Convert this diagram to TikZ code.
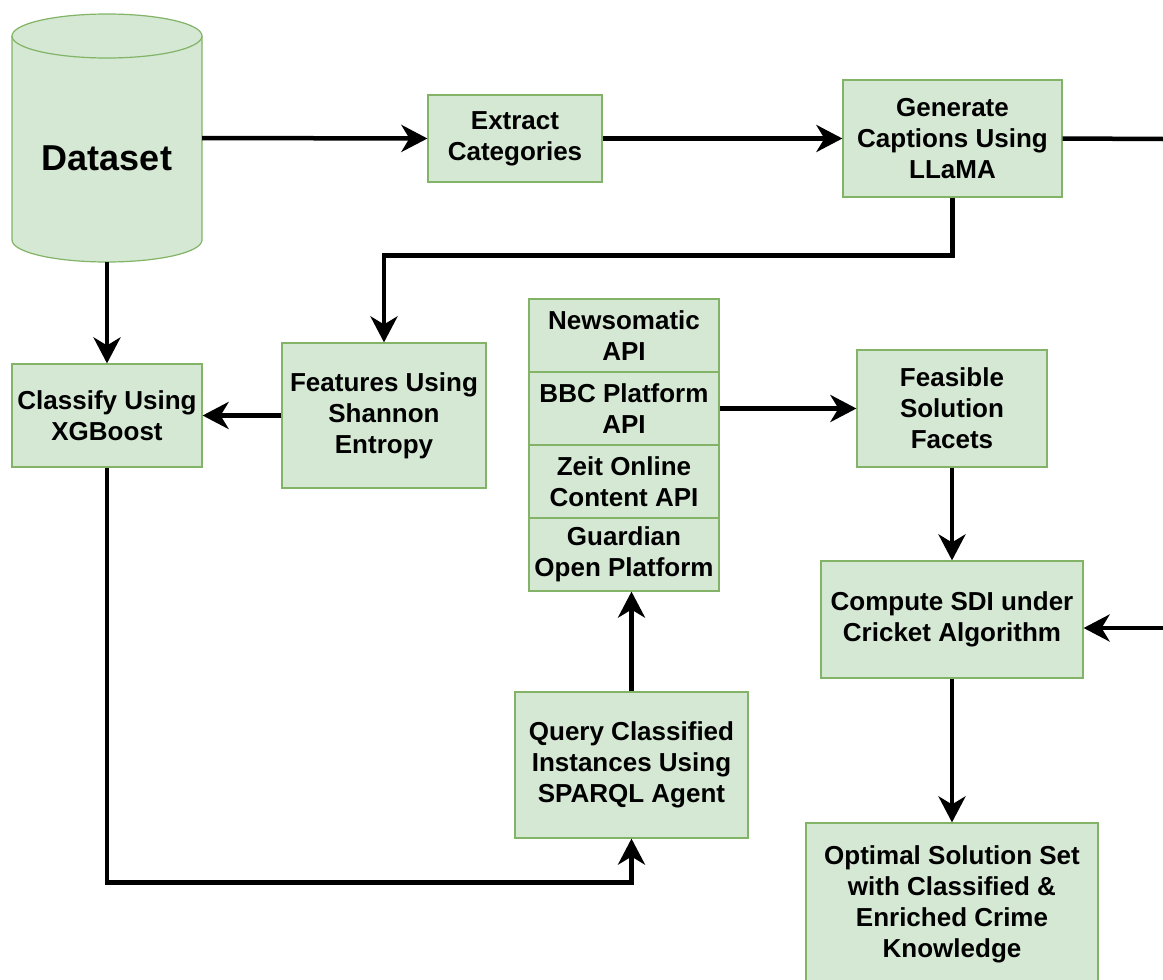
\documentclass[tikz,border=0pt]{standalone}
\usepackage{fontspec}
\setmainfont{Liberation Sans}
\usetikzlibrary{arrows.meta}
\definecolor{boxfill}{HTML}{D5E8D4}
\definecolor{boxline}{HTML}{82B366}
\begin{document}
\begin{tikzpicture}[x=1pt,y=-1pt,
	box/.style={draw=boxline, fill=boxfill, line width=1.2pt, align=center, inner sep=0pt, font=\fontsize{26}{31}\selectfont\bfseries},
	flow/.style={line width=4.5pt, -{Stealth[length=26pt,width=27pt,inset=8pt]}},
	wire/.style={line width=4.5pt}]
	\clip (0,0) rectangle (1163,980);
	\filldraw[draw=boxline, fill=boxfill, line width=1.2pt] (12,36) -- (12,240) arc[start angle=180, end angle=360, x radius=95pt, y radius=22pt] -- (202,36) arc[start angle=0, end angle=180, x radius=95pt, y radius=22pt] -- cycle;
	\draw[boxline, line width=1.2pt] (12,36) arc[start angle=180, end angle=360, x radius=95pt, y radius=22pt];
	\node[minimum width=190pt, minimum height=248pt, inner sep=0pt] (ds) at (107,138) {};
	\node[font=\fontsize{36}{43}\selectfont\bfseries] (dslabel) at (107,158) {Dataset};
	\node[box, minimum width=174pt, minimum height=87pt] (ext) at (515,138.5) {Extract\\Categories};
	\node[box, minimum width=219pt, minimum height=117pt] (gen) at (952.5,138.5) {Generate\\Captions Using\\LLaMA};
	\node[box, minimum width=204pt, minimum height=145pt] (feat) at (384,415.5) {Features Using\\Shannon\\Entropy};
	\node[box, minimum width=190pt, minimum height=103pt] (cls) at (107,415.5) {Classify Using\\XGBoost};
	\node[box, minimum width=190pt, minimum height=73pt] (api1) at (624,335.5) {Newsomatic\\API};
	\node[box, minimum width=190pt, minimum height=73pt] (api2) at (624,408.5) {BBC Platform\\API};
	\node[box, minimum width=190pt, minimum height=73pt] (api3) at (624,481.5) {Zeit Online\\Content API};
	\node[box, minimum width=190pt, minimum height=73pt] (api4) at (624,554.5) {Guardian\\Open Platform};
	\node[box, minimum width=233pt, minimum height=146pt] (query) at (631.5,765) {Query Classified\\Instances Using\\SPARQL Agent};
	\node[box, minimum width=190pt, minimum height=117pt] (feas) at (952,408.5) {Feasible\\Solution\\Facets};
	\node[box, minimum width=262pt, minimum height=117pt] (cmp) at (952,619.5) {Compute SDI under\\Cricket Algorithm};
	\node[box, minimum width=292pt, minimum height=162pt] (opt) at (952,904) {Optimal Solution Set\\with Classified \&\\Enriched Crime\\Knowledge};
	\coordinate (outR) at (1163,139);
	\coordinate (inR) at (1163,628);
	\draw[flow] (ds.east) -- (ext.west);
	\draw[flow] (ext.east) -- (gen.west);
	\draw[wire] (gen.east) -- (outR);
	\draw[flow] (gen.south) -- ++(0,58) -| (feat.north);
	\draw[flow] (ds.south) -- (cls.north);
	\draw[flow] (feat.west) -- (cls.east);
	\draw[flow] (cls.south) -- ++(0,415) -| (query.south);
	\draw[flow] (query.north) -- (query.north |- api4.south);
	\draw[flow] (api2.east) -- (feas.west);
	\draw[flow] (feas.south) -- (cmp.north);
	\draw[flow] (inR) -- (inR -| cmp.east);
	\draw[flow] (cmp.south) -- (opt.north);
\end{tikzpicture}
\end{document}
